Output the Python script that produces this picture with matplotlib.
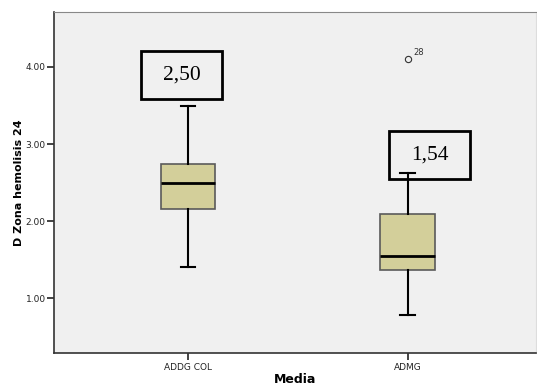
import numpy as np
import matplotlib.pyplot as plt
from matplotlib.patches import Rectangle

# data
groups = ["ADDG COL", "ADMG"]
medians = [2.50, 1.54]
q1 = [2.15, 1.36]
q3 = [2.74, 2.09]
whis_lo = [1.40, 0.78]
whis_hi = [3.50, 2.62]
outliers = [[], [4.10]]
outlier_ids = [[], ["28"]]
median_labels = ["2,50", "1,54"]

fig = plt.figure(figsize=(5.37, 3.85), dpi=100)
ax = fig.add_axes([0.1006, 0.0831, 0.8976, 0.8857])
ax.set_facecolor("#f0f0f0")

stats = []
for i in range(len(groups)):
   stats.append(dict(med=medians[i], q1=q1[i], q3=q3[i],
                     whislo=whis_lo[i], whishi=whis_hi[i],
                     fliers=outliers[i], label=groups[i]))

pos = np.arange(1, len(groups) + 1)
ax.bxp(stats, positions=pos, widths=0.25, patch_artist=True,
       boxprops=dict(facecolor="#d3cf9a", edgecolor="#5a5a5a", lw=1.2),
       medianprops=dict(color="black", lw=2),
       whiskerprops=dict(color="black", lw=1.5),
       capprops=dict(color="black", lw=1.5),
       capwidths=0.065,
       flierprops=dict(marker="o", markersize=4.5, markerfacecolor="none",
                       markeredgecolor="#333333", markeredgewidth=0.8))

# outlier case numbers
for i in range(len(groups)):
   for v, lab in zip(outliers[i], outlier_ids[i]):
      ax.annotate(lab, (pos[i], v), xytext=(4, 3), textcoords="offset points",
                  fontsize=6, color="#333333")

# boxed median labels
label_off = [(-0.03, 1.40), (0.10, 1.32)]
for i in range(len(groups)):
   cx = pos[i] + label_off[i][0]
   cy = medians[i] + label_off[i][1]
   ax.add_patch(Rectangle((cx - 0.186, cy - 0.31), 0.372, 0.62,
                          facecolor="none", edgecolor="black", lw=2, zorder=5))
   ax.text(cx, cy, median_labels[i], ha="center", va="center",
           fontsize=15.5, family="Liberation Serif", zorder=6)

ax.set_xlim(0.39, 2.585)
ax.set_ylim(0.286, 4.714)
ax.set_yticks([1, 2, 3, 4])
ax.set_yticklabels(["1.00", "2.00", "3.00", "4.00"])
ax.set_xticks(pos)
ax.set_xticklabels(groups)
ax.tick_params(axis="both", labelsize=6.5, colors="#222222", length=5, width=1.2)
ax.tick_params(axis="y", pad=1)
ax.tick_params(axis="x", pad=2)

for s in ["left", "bottom"]:
   ax.spines[s].set_color("#333333")
   ax.spines[s].set_linewidth(1.2)
ax.spines["top"].set_color("#888888")
ax.spines["right"].set_color("#dddddd")

ax.set_ylabel("D Zona hemolisis 24", fontsize=8, fontweight="bold", labelpad=1)
ax.set_xlabel("Media", fontsize=9, fontweight="bold", labelpad=1)

fig.savefig("out.png", dpi=100)
